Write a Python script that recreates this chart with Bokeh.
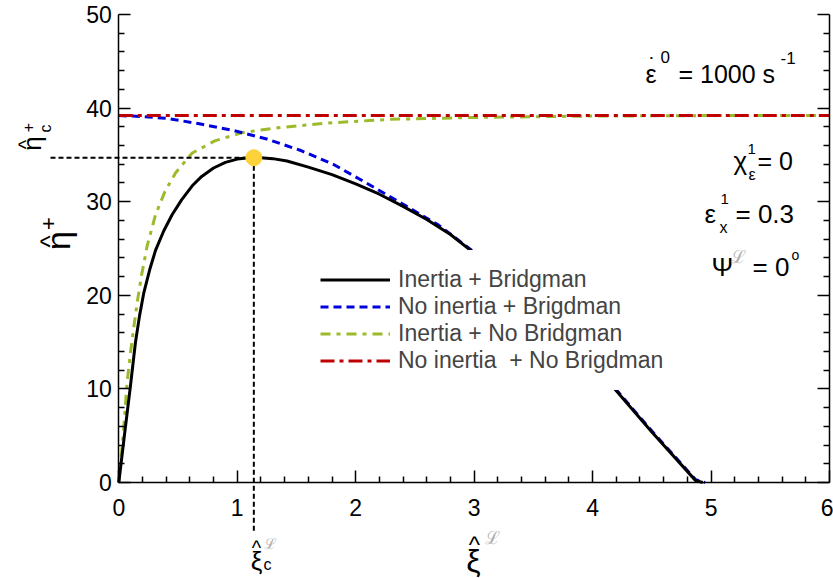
import math
from bokeh.plotting import figure
from bokeh.models import Range1d, Legend, LegendItem, Label, LinearAxis, FixedTicker
from bokeh.embed import file_html
from bokeh.resources import INLINE

# ---------------- data ----------------
x_ticks = [0, 1, 2, 3, 4, 5, 6]
y_ticks = [0, 10, 20, 30, 40, 50]

# Inertia + Bridgman
x_ib = [0, 0.05, 0.1, 0.14, 0.175, 0.21, 0.26, 0.31, 0.38, 0.45, 0.53, 0.62, 0.7, 0.8, 0.9, 1.0, 1.1, 1.2,
        1.3, 1.42, 1.6, 1.8, 2.0, 2.2, 2.4, 2.6, 2.8, 3.0, 3.3, 3.6, 3.9, 4.2, 4.5, 4.87, 4.93]
y_ib = [0, 5.3, 10.5, 14.9, 17.8, 20.2, 22.7, 24.8, 26.9, 28.6, 30.2, 31.7, 32.7, 33.6, 34.2, 34.55, 34.7, 34.7,
        34.6, 34.35, 33.7, 32.9, 31.9, 30.8, 29.5, 28.1, 26.5, 24.5, 21.6, 18.4, 14.6, 9.8, 5.4, 0.2, 0.0]
# No inertia + Bridgman
x_nb = [0, 0.2, 0.41, 0.69, 0.97, 1.25, 1.53, 1.81, 2.09, 2.35, 2.7, 3.0, 3.3, 3.6, 3.9, 4.2, 4.5, 4.87, 4.95]
y_nb = [39.2, 39.1, 38.9, 38.3, 37.6, 36.7, 35.5, 34.0, 32.0, 30.1, 27.5, 24.6, 21.7, 18.5, 14.7, 9.9, 5.5, 0.3, 0.0]
# Inertia + No Bridgman
x_in = [0, 0.04, 0.07, 0.1, 0.13, 0.16, 0.19, 0.24, 0.31, 0.39, 0.48, 0.62, 0.81, 1.05, 1.34, 1.76, 2.29,
        3.0, 4.0, 5.0, 6.0]
y_in = [0, 5.5, 10.7, 14.0, 16.9, 19.6, 22.0, 25.3, 28.6, 31.1, 33.1, 35.2, 36.5, 37.4, 37.9, 38.4, 38.8,
        39.0, 39.15, 39.2, 39.2]
# No inertia + No Bridgman
x_nn = [0, 6]
y_nn = [39.2, 39.2]
# critical point
x_c = [1.14]
y_c = [34.7]

labels = ["Inertia + Bridgman", "No inertia + Brigdman", "Inertia + No Bridgman", "No inertia  + No Brigdman"]

# ---------------- figure ----------------
FONT = "Liberation Sans"
W, H = 833, 578
# page pixel positions of the axis ends
PX0, PX6 = 118.3, 829.0
PY0, PY50 = 482.0, 14.0
XS = (PX6 - PX0) / 6.0
YS = (PY0 - PY50) / 50.0
def dx(px):
    return (px - PX0) / XS
def dy(py):
    return (PY0 - py) / YS

p = figure(width=W, height=H, x_range=Range1d(dx(0), dx(W)), y_range=Range1d(dy(H), dy(0)),
           output_backend="svg", toolbar_location=None, min_border=0)
p.outline_line_color = None
p.grid.visible = False
p.background_fill_color = "white"
p.border_fill_color = "white"

def style_axis(ax, ticks, nminor, loc):
    ax.ticker = FixedTicker(ticks=ticks,
                            minor_ticks=[t0 + (t1 - t0) * k / nminor for t0, t1 in zip(ticks[:-1], ticks[1:]) for k in range(1, nminor)])
    ax.fixed_location = loc
    ax.bounds = (ticks[0], ticks[-1])
    ax.axis_line_width = 1.5
    ax.major_tick_line_width = 1.5
    ax.minor_tick_line_width = 1.5
    ax.major_tick_in = 12
    ax.major_tick_out = 0
    ax.minor_tick_in = 6
    ax.minor_tick_out = 0
    ax.major_label_text_font = FONT
    ax.major_label_text_font_size = "23px"
    ax.major_label_text_color = "black"

style_axis(p.xaxis[0], x_ticks, 5, 0)
style_axis(p.yaxis[0], y_ticks, 5, 0)
p.xaxis[0].major_label_standoff = 16
p.yaxis[0].major_label_standoff = 7

ra = LinearAxis()
style_axis(ra, y_ticks, 5, 6)
ra.major_label_overrides = {t: "" for t in y_ticks}
p.add_layout(ra, "right")

# ---------------- curves ----------------
r_in = p.line(x_in, y_in, line_color="#9BBB2A", line_width=3, line_dash="10 6 4 6")
r_nb = p.line(x_nb, y_nb, line_color="#0000DD", line_width=3, line_dash="8 5")
r_nn = p.line(x_nn, y_nn, line_color="#C00000", line_width=3, line_dash="14 5 4 5")
r_ib = p.line(x_ib, y_ib, line_color="black", line_width=3)

# guide lines to the critical point (out to the labels)
p.segment(x0=[dx(50), x_c[0]], y0=[y_c[0], y_c[0]], x1=[x_c[0], x_c[0]], y1=[y_c[0], dy(531)],
          line_color="black", line_width=2, line_dash="5 3")
p.scatter(x_c, y_c, size=16, fill_color="#FDD23A", line_color="#FDD23A")

# ---------------- legend ----------------
legend = Legend(items=[LegendItem(label=labels[0], renderers=[r_ib]),
                       LegendItem(label=labels[1], renderers=[r_nb]),
                       LegendItem(label=labels[2], renderers=[r_in]),
                       LegendItem(label=labels[3], renderers=[r_nn])],
                location=(304, H - 390),
                border_line_alpha=0, background_fill_color="white", background_fill_alpha=1,
                label_text_font=FONT, label_text_font_size="23px",
                glyph_width=70, glyph_height=27, label_height=27, spacing=0, padding=16,
                label_standoff=8, margin=0)
p.add_layout(legend)

# ---------------- text annotations ----------------
def lab(px, py, text, size, color="black", align="left", baseline="alphabetic", angle=0.0):
    p.add_layout(Label(x=dx(px), y=dy(py), text=text, text_font=FONT, text_font_size=f"{size}px",
                       text_color=color, text_align=align, text_baseline=baseline, angle=angle))

# strain rate
lab(645, 73, "\u03b5", 25)
lab(652, 65, "\u02d9", 22, align="center")
lab(660, 56, "0", 17)
lab(678, 73, "= 1000 s", 25)
lab(780, 57, "-1", 17)
# chi
lab(733, 160, "\u03c7", 26)
lab(747, 148, "1", 15)
lab(748, 174, "\u03b5", 16)
lab(757, 160, "= 0", 25)
# eps_x
lab(704, 213, "\u03b5", 26)
lab(720, 198, "1", 15)
lab(719, 227, "x", 16)
lab(735, 213, "= 0.3", 26)
# Psi
lab(711, 266, "\u03a8", 26)
lab(730, 256, "\u2112", 18, color="#B0B0B0")
lab(752, 266, "= 0", 26)
lab(791, 254, "o", 14)

# axis titles (rotated, hat drawn as a separate caret)
R = math.pi / 2
lab(57, 240, "\u03b7", 34, align="center", baseline="middle", angle=R)
lab(49, 241, "^", 26, align="center", angle=R)
lab(48, 223, "+", 22, align="center", baseline="middle", angle=R)
lab(31, 143, "\u03b7", 26, align="center", baseline="middle", angle=R)
lab(25, 144, "^", 20, align="center", angle=R)
lab(27, 127, "+", 16, align="center", baseline="middle", angle=R)
lab(45, 128, "c", 16, align="center", baseline="middle", angle=R)

lab(473, 560, "\u03be", 32, align="center")
lab(474, 544, "^", 24, align="center")
lab(492, 537, "\u2112", 18, color="#B0B0B0", align="center", baseline="middle")
lab(256, 560, "\u03be", 26, align="center")
lab(256, 547, "^", 20, align="center")
lab(270, 543, "\u2112", 15, color="#B0B0B0", align="center", baseline="middle")
lab(267, 564, "c", 16, align="center", baseline="middle")

open("out.html", "w").write(file_html(p, INLINE))
